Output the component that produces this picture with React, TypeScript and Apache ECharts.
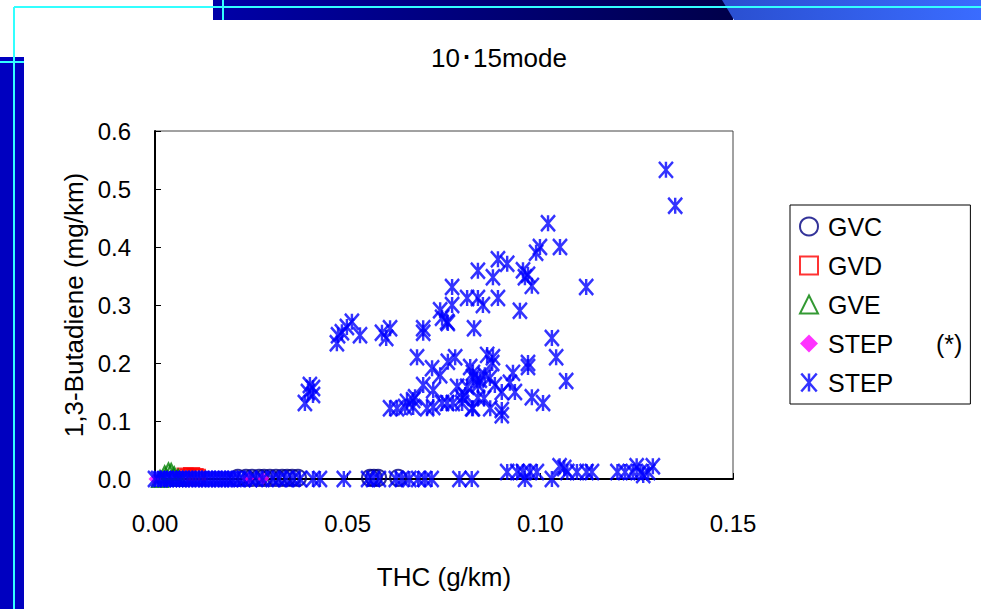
import React, { useEffect, useRef } from "react";
import * as echarts from "echarts";

const titleText = "10･15mode";
const xAxisName = "THC (g/km)";
const yAxisName = "1,3-Butadiene (mg/km)";
const xTicks = [0, 0.05, 0.1, 0.15];
const yTicks = [0, 0.1, 0.2, 0.3, 0.4, 0.5, 0.6];

const gvc: number[][] = [
  [0.0215, 0.002], [0.0236, 0.002], [0.0252, 0.002], [0.027, 0.002], [0.0283, 0.002],
  [0.0298, 0.002], [0.0314, 0.002], [0.033, 0.002], [0.0343, 0.002], [0.0356, 0.002],
  [0.0371, 0.002], [0.0558, 0.002], [0.0568, 0.002], [0.0579, 0.002], [0.0631, 0.002],
];
const gvd: number[][] = [
  [0.0078, 0.005], [0.0086, 0.003], [0.0095, 0.006], [0.0104, 0.004], [0.011, 0.003],
];
const gve: number[][] = [
  [0.0013, 0.0], [0.0025, 0.008], [0.0035, 0.013], [0.0042, 0.012], [0.005, 0.006], [0.006, 0.002],
];
const stepStar: number[][] = [
  [0.0, 0.0], [0.0241, 0.001], [0.028, 0.001],
];
const stepLow: number[][] = [
  [0.0, 0.0], [0.0008, 0.0], [0.0015, 0.0], [0.0024, 0.0], [0.0031, 0.0], [0.004, 0.0],
  [0.0047, 0.0], [0.0056, 0.0], [0.0063, 0.0], [0.0071, 0.0], [0.008, 0.0], [0.0088, 0.0],
  [0.0097, 0.0], [0.0105, 0.0], [0.0114, 0.0], [0.0122, 0.0], [0.0131, 0.0], [0.0139, 0.0],
  [0.0148, 0.0], [0.0156, 0.0], [0.0165, 0.0], [0.0173, 0.0], [0.0182, 0.0], [0.019, 0.0],
  [0.0199, 0.0], [0.0207, 0.0], [0.0218, 0.0], [0.0229, 0.0], [0.0247, 0.0], [0.0262, 0.0],
  [0.0279, 0.0], [0.0305, 0.0], [0.0322, 0.0], [0.034, 0.0], [0.0358, 0.0], [0.0376, 0.0],
  [0.041, 0.0], [0.0428, 0.0], [0.049, 0.0], [0.0553, 0.0], [0.0566, 0.0], [0.0581, 0.0],
  [0.0625, 0.0], [0.0641, 0.0], [0.066, 0.0], [0.0683, 0.0], [0.07, 0.0], [0.0718, 0.0],
  [0.079, 0.0], [0.0822, 0.0],
  [0.0914, 0.012], [0.094, 0.012], [0.0955, 0.012], [0.0973, 0.012], [0.0991, 0.012],
  [0.107, 0.012], [0.1095, 0.012], [0.112, 0.012], [0.1134, 0.012], [0.12, 0.012],
  [0.122, 0.012], [0.124, 0.012], [0.126, 0.012], [0.128, 0.012],
  [0.105, 0.022], [0.1062, 0.019], [0.125, 0.022], [0.1292, 0.022],
  [0.096, 0.0], [0.103, 0.0], [0.1267, 0.007],
];
const stepHigh: number[][] = [
  [0.1326, 0.533], [0.135, 0.471], [0.102, 0.441], [0.0999, 0.4], [0.1051, 0.4], [0.0989, 0.39],
  [0.089, 0.379], [0.0914, 0.371], [0.0838, 0.359], [0.0877, 0.348], [0.0955, 0.36], [0.096, 0.348],
  [0.0968, 0.352], [0.0978, 0.333], [0.1119, 0.331], [0.0771, 0.331], [0.081, 0.312], [0.0838, 0.312],
  [0.0851, 0.3], [0.089, 0.312], [0.0947, 0.29], [0.0828, 0.26], [0.103, 0.243], [0.1041, 0.21],
  [0.1067, 0.169], [0.0968, 0.2], [0.0968, 0.193], [0.0929, 0.183], [0.0921, 0.166], [0.0934, 0.15],
  [0.09, 0.15], [0.0978, 0.141], [0.1007, 0.131], [0.0862, 0.214], [0.0877, 0.21], [0.0875, 0.2],
  [0.0818, 0.193], [0.0825, 0.183], [0.0836, 0.171], [0.081, 0.159], [0.0823, 0.122], [0.087, 0.122],
  [0.09, 0.119], [0.09, 0.11],
  [0.074, 0.291], [0.0771, 0.3], [0.0745, 0.278], [0.0758, 0.271], [0.076, 0.269], [0.0696, 0.26],
  [0.0696, 0.252], [0.061, 0.26], [0.0589, 0.252], [0.06, 0.243], [0.0511, 0.271], [0.0498, 0.262],
  [0.0485, 0.253], [0.0475, 0.248], [0.0472, 0.234], [0.0532, 0.248],
  [0.068, 0.21], [0.0719, 0.191], [0.076, 0.202], [0.0779, 0.21], [0.074, 0.179], [0.0825, 0.176],
  [0.0696, 0.162], [0.0722, 0.153], [0.0675, 0.141], [0.067, 0.136], [0.0654, 0.133], [0.061, 0.122],
  [0.0628, 0.122], [0.0649, 0.124], [0.067, 0.124], [0.0706, 0.122], [0.0722, 0.124], [0.0745, 0.131],
  [0.0758, 0.131], [0.0773, 0.131], [0.0797, 0.131], [0.0784, 0.159], [0.0797, 0.14], [0.0825, 0.122],
  [0.0843, 0.171], [0.0856, 0.179], [0.0838, 0.162], [0.0869, 0.174], [0.0882, 0.162], [0.0805, 0.145],
  [0.0838, 0.14], [0.0854, 0.139],
  [0.0402, 0.162], [0.041, 0.157], [0.0397, 0.15], [0.041, 0.145], [0.0389, 0.131],
];

const FONT = "'Liberation Sans', Arial, sans-serif";
const STAR = "path://M0 0L12 14M12 0L0 14M6 0L6 14";

export default function App() {
  const ref = useRef<HTMLDivElement>(null);
  useEffect(() => {
    document.body.style.margin = "0";
    const chart = echarts.init(ref.current!, undefined, { renderer: "svg" });
    const cyan = "#33FFFF";
    const option: any = {
      animation: false,
      backgroundColor: "#ffffff",
      graphic: [
        {
          type: "rect", z: 0, shape: { x: 213, y: 0, width: 520, height: 20 },
          style: { fill: new echarts.graphic.LinearGradient(0, 0, 1, 0, [
            { offset: 0, color: "#0000A8" }, { offset: 1, color: "#00004A" }]) },
        },
        {
          type: "polygon", z: 0, shape: { points: [[722, 0], [981, 0], [981, 20], [734, 20]] },
          style: { fill: new echarts.graphic.LinearGradient(0, 0, 1, 0, [
            { offset: 0, color: "#2A4FD0" }, { offset: 1, color: "#3A6CFF" }]) },
        },
        { type: "rect", z: 0, shape: { x: 0, y: 57, width: 24, height: 552 }, style: { fill: "#0000C0" } },
        { type: "line", z: 1, shape: { x1: 14, y1: 7, x2: 981, y2: 7 }, style: { stroke: cyan, lineWidth: 2 } },
        { type: "line", z: 1, shape: { x1: 14, y1: 7, x2: 14, y2: 609 }, style: { stroke: cyan, lineWidth: 2 } },
        { type: "line", z: 1, shape: { x1: 223, y1: 0, x2: 223, y2: 20 }, style: { stroke: cyan, lineWidth: 2 } },
        { type: "line", z: 1, shape: { x1: 0, y1: 62, x2: 24, y2: 62 }, style: { stroke: cyan, lineWidth: 2 } },
        {
          type: "text", z: 5, x: 499, y: 58,
          style: { text: titleText, font: `26px ${FONT}`, fill: "#000", align: "center", verticalAlign: "middle" },
        },
      ],
      grid: {
        left: 155, top: 131, width: 578, height: 348,
        show: true, borderColor: "#444", borderWidth: 1, backgroundColor: "transparent",
      },
      xAxis: {
        type: "value", min: 0, max: 0.15, interval: 0.05,
        name: xAxisName, nameLocation: "middle", nameGap: 85,
        nameTextStyle: { fontSize: 26, fontFamily: FONT, color: "#000" },
        axisLine: { show: true, lineStyle: { color: "#000", width: 2 } },
        axisTick: { show: true, inside: true, length: 6, lineStyle: { color: "#000", width: 1 } },
        axisLabel: {
          margin: 32, fontSize: 24, fontFamily: FONT, color: "#000",
          formatter: (v: number) => (xTicks.includes(Number(v.toFixed(2))) ? v.toFixed(2) : ""),
        },
        splitLine: { show: false },
      },
      yAxis: {
        type: "value", min: 0, max: 0.6, interval: 0.1,
        name: yAxisName, nameLocation: "middle", nameGap: 67, nameRotate: 90,
        nameTextStyle: { fontSize: 26, fontFamily: FONT, color: "#000" },
        axisLine: { show: true, lineStyle: { color: "#000", width: 2 } },
        axisTick: { show: true, inside: true, length: 6, lineStyle: { color: "#000", width: 1 } },
        axisLabel: {
          margin: 24, fontSize: 24, fontFamily: FONT, color: "#000",
          formatter: (v: number) => (yTicks.includes(Number(v.toFixed(1))) ? v.toFixed(1) : ""),
        },
        splitLine: { show: false },
      },
      legend: {
        orient: "vertical", left: 790, top: 205,
        padding: [9, 8, 9, 9], itemGap: 14, itemWidth: 18, itemHeight: 18,
        borderColor: "#000", borderWidth: 1, backgroundColor: "#fff",
        textStyle: {
          fontSize: 25, fontFamily: FONT, color: "#000",
          rich: {
            n: { fontSize: 25, fontFamily: FONT, color: "#000", padding: [0, 0, 0, 5] },
            a: { fontSize: 25, fontFamily: FONT, color: "#000", padding: [0, 0, 0, 5], width: 108 },
            b: { fontSize: 25, fontFamily: FONT, color: "#000" },
          },
        },
        formatter: (name: string) => (name === "STEP (*)" ? "{a|STEP}{b|(*)}" : `{n|${name}}`),
        data: [
          { name: "GVC", icon: "circle", itemStyle: { color: "transparent", borderColor: "#000080", borderWidth: 2 } },
          { name: "GVD", icon: "rect", itemStyle: { color: "transparent", borderColor: "#FF0000", borderWidth: 2 } },
          { name: "GVE", icon: "triangle", itemStyle: { color: "transparent", borderColor: "#008000", borderWidth: 2 } },
          { name: "STEP (*)", icon: "diamond", itemStyle: { color: "#FF00FF", borderColor: "#FF00FF", borderWidth: 0 } },
          { name: "STEP", icon: STAR, itemStyle: { color: "transparent", borderColor: "#0000FF", borderWidth: 2.5 } },
        ],
      },
      series: [
        {
          name: "GVC", type: "scatter", data: gvc, symbol: "circle", symbolSize: 16,
          itemStyle: { color: "transparent", borderColor: "#000080", borderWidth: 2.2 },
        },
        {
          name: "GVD", type: "scatter", data: gvd, symbol: "rect", symbolSize: 15,
          itemStyle: { color: "transparent", borderColor: "#FF0000", borderWidth: 2.2 },
        },
        {
          name: "GVE", type: "scatter", data: gve, symbol: "triangle", symbolSize: 16,
          itemStyle: { color: "transparent", borderColor: "#008000", borderWidth: 2.2 },
        },
        {
          name: "STEP (*)", type: "scatter", data: stepStar, symbol: "diamond", symbolSize: 13,
          itemStyle: { color: "#FF00FF", borderWidth: 0 },
        },
        {
          name: "STEP", type: "scatter", data: [...stepLow, ...stepHigh], symbol: STAR, symbolSize: [14, 16],
          itemStyle: { color: "transparent", borderColor: "#0000FF", borderWidth: 2.6 },
        },
      ],
    };
    chart.setOption(option);
    return () => chart.dispose();
  }, []);
  return <div ref={ref} style={{ width: 981, height: 609 }} />;
}
